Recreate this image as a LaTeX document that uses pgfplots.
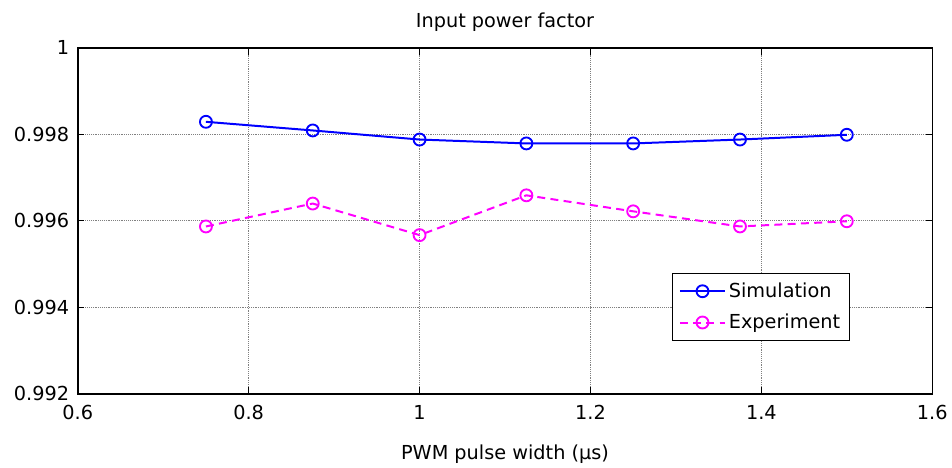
\documentclass[border=0pt]{standalone}
\usepackage{fontspec}
\setmainfont{DejaVu Sans}
\usepackage{pgfplots}
\pgfplotsset{compat=1.18}
\definecolor{simblue}{rgb}{0,0,1}
\definecolor{expmag}{rgb}{1,0,1}
\begin{document}
\begin{tikzpicture}
\begin{axis}[
  scale only axis,
  width=642.75pt, height=260.25pt,
  xmin=0.6, xmax=1.6, ymin=0.992, ymax=1,
  xtick={0.6,0.8,1,1.2,1.4,1.6},
  ytick={0.992,0.994,0.996,0.998,1},
  xticklabels={0.6,0.8,1,1.2,1.4,1.6},
  yticklabels={0.992,0.994,0.996,0.998,1},
  /pgf/number format/assume math mode=true,
  tick label style={font=\fontsize{14.5}{16}\selectfont},
  label style={font=\fontsize{14.5}{16}\selectfont},
  title style={font=\fontsize{14.5}{16}\selectfont, yshift=3pt},
  title={Input power factor},
  xlabel={PWM pulse width (µs)},
  grid=major,
  major grid style={gray, densely dotted, line width=0.6pt},
  axis line style={black, line width=1.1pt},
  tick style={black, line width=0.8pt},
  tick align=inside,
  major tick length=5pt,
  xticklabel style={yshift=-5pt},
  yticklabel style={xshift=-3pt},
  xlabel style={yshift=-12pt},
  legend style={at={(0.695,0.349)}, anchor=north west, draw=black, line width=0.8pt,
    font=\fontsize{14.5}{16}\selectfont, row sep=7pt, inner xsep=5pt, inner ysep=5pt},
  legend cell align=left,
  legend image code/.code={\draw[mark repeat=2,mark phase=2] plot coordinates {(0cm,0cm)(0.6cm,0cm)(1.2cm,0cm)};},
  every axis plot/.append style={line width=1.5pt},
]
\addplot[simblue, mark=o, mark size=4.5pt, mark options={solid, line width=1.4pt}]
  coordinates {(0.75,0.99829) (0.875,0.99809) (1.0,0.99788) (1.125,0.99779) (1.25,0.99779) (1.375,0.99788) (1.5,0.99799)};
\addlegendentry{Simulation}
\addplot[expmag, dash pattern=on 6pt off 4pt, mark=o, mark size=4.5pt, mark options={solid, line width=1.4pt}]
  coordinates {(0.75,0.99587) (0.875,0.99640) (1.0,0.99567) (1.125,0.99659) (1.25,0.99622) (1.375,0.99587) (1.5,0.99599)};
\addlegendentry{Experiment}
\end{axis}
\path (current axis.south west) ++(-58.5pt,-54.75pt) coordinate (bbsw);
\path (current axis.north east) ++(12.75pt,36pt) coordinate (bbne);
\useasboundingbox (bbsw) rectangle (bbne);
\end{tikzpicture}
\end{document}
